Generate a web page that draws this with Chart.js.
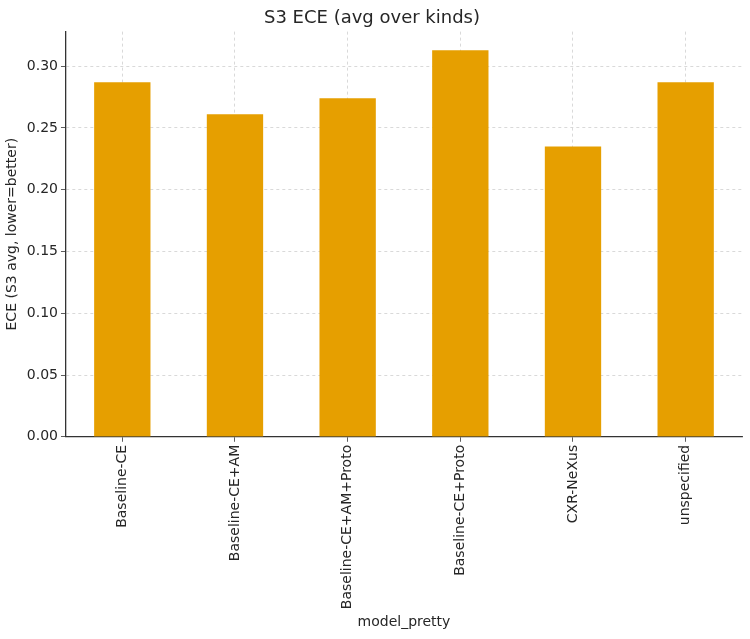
<!DOCTYPE html>
<html>
<head>
<meta charset="utf-8">
<script src="https://cdn.jsdelivr.net/npm/chart.js@4/dist/chart.umd.min.js"></script>
<style>
  body { margin: 0; background: #fff; }
  #wrap { width: 750px; height: 639px; }
</style>
</head>
<body>
<div id="wrap"><canvas id="chart"></canvas></div>
<script>
// data
const models = ['Baseline-CE', 'Baseline-CE+AM', 'Baseline-CE+AM+Proto', 'Baseline-CE+Proto', 'CXR-NeXus', 'unspecified'];
const eceValues = [0.287, 0.261, 0.274, 0.313, 0.235, 0.287];
const yTicks = [0, 0.05, 0.10, 0.15, 0.20, 0.25, 0.30];

Chart.defaults.font.family = 'DejaVu Sans';
Chart.defaults.color = '#262626';

const ctx = document.getElementById('chart');

new Chart(ctx, {
  type: 'bar',
  data: {
    labels: models,
    datasets: [{
      label: 'ECE',
      data: eceValues,
      backgroundColor: '#E69F00',
      barPercentage: 0.5,
      categoryPercentage: 1.0
    }]
  },
  options: {
    responsive: true,
    maintainAspectRatio: false,
    animation: false,
    layout: { padding: { left: 2, right: 8, top: 0, bottom: 4 } },
    plugins: {
      legend: { display: false },
      tooltip: { enabled: false },
      title: {
        display: true,
        text: 'S3 ECE (avg over kinds)',
        font: { size: 18, weight: 'normal' },
        color: '#262626',
        padding: { top: 8, bottom: 2 }
      }
    },
    scales: {
      x: {
        grid: {
          offset: false,
          color: '#d0d0d0',
          tickColor: '#333',
          tickLength: 5,
          lineWidth: 0.8
        },
        border: { display: true, color: '#333', width: 1.3, dash: [3, 3] },
        ticks: {
          maxRotation: 90,
          minRotation: 90,
          autoSkip: false,
          font: { size: 14 },
          padding: 3
        },
        title: {
          display: true,
          text: 'model_pretty',
          font: { size: 14 },
          padding: { top: 2 }
        }
      },
      y: {
        min: 0,
        max: 0.328,
        afterBuildTicks: axis => { axis.ticks = yTicks.map(v => ({ value: v })); },
        grid: {
          color: '#d0d0d0',
          tickColor: '#333',
          tickLength: 5,
          lineWidth: 0.8
        },
        border: { display: true, color: '#333', width: 1.3, dash: [3, 3] },
        ticks: {
          font: { size: 14 },
          padding: 3,
          callback: v => v.toFixed(2)
        },
        title: {
          display: true,
          text: 'ECE (S3 avg, lower=better)',
          font: { size: 14 },
          padding: { top: 2, bottom: 3 }
        }
      }
    }
  }
});
</script>
</body>
</html>
